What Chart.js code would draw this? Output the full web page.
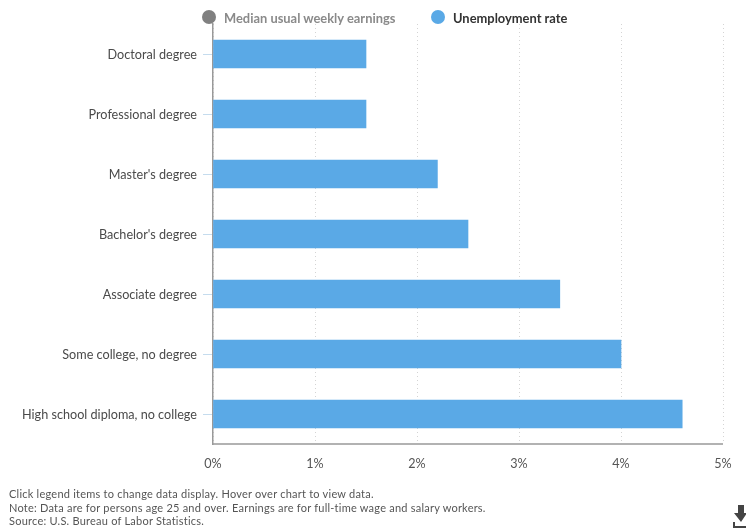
<!DOCTYPE html>
<html>
<head>
<meta charset="utf-8">
<style>
  html, body { margin: 0; padding: 0; background: #fff; }
  #wrap { position: relative; width: 746px; height: 531px; overflow: hidden; font-family: Lato, sans-serif; }
  canvas { position: absolute; left: 0; top: 0; }
  .legend { position: absolute; top: 9px; height: 18px; line-height: 18px; font-size: 12.9px; font-weight: 700; white-space: nowrap; }
  .legend i { position: absolute; left: 0; top: 1px; width: 14px; height: 14px; border-radius: 50%; }
  .legend span { position: absolute; left: 22px; top: 0; }
  #notes { position: absolute; left: 9px; top: 487px; font-size: 11px; line-height: 13.5px; color: #555; letter-spacing: 0.23px; white-space: nowrap; }
  #save { position: absolute; left: 732px; top: 505px; }
</style>
</head>
<body>
<div id="wrap">
  <canvas id="chart" width="746" height="531"></canvas>
  <div class="legend" id="lg0" style="left:202px"><i style="background:#808080"></i><span style="color:#8a8a8a"></span></div>
  <div class="legend" id="lg1" style="left:431px"><i style="background:#5aa9e6"></i><span style="color:#333"></span></div>
  <div id="notes"></div>
  <svg id="save" width="16" height="26" viewBox="0 0 16 26">
    <path d="M6 0h6v8h3l-6 9-7-9h4z" fill="#444"/>
    <path d="M1 17v6h15v-2H3v-4z" fill="#444"/>
  </svg>
</div>
<script src="https://cdn.jsdelivr.net/npm/chart.js@4/dist/chart.umd.min.js"></script>
<script>
const categories = [
  "Doctoral degree",
  "Professional degree",
  "Master's degree",
  "Bachelor's degree",
  "Associate degree",
  "Some college, no degree",
  "High school diploma, no college"
];
const unemploymentRate = [1.5, 1.5, 2.2, 2.5, 3.4, 4.0, 4.6];
const rateTicks = [0, 1, 2, 3, 4, 5];
const legendNames = ["Median usual weekly earnings", "Unemployment rate"];
const noteLines = [
  "Click legend items to change data display. Hover over chart to view data.",
  "Note: Data are for persons age 25 and over. Earnings are for full-time wage and salary workers.",
  "Source: U.S. Bureau of Labor Statistics."
];

document.querySelector("#lg0 span").textContent = legendNames[0];
document.querySelector("#lg1 span").textContent = legendNames[1];
document.getElementById("notes").innerHTML = noteLines.join("<br>");

new Chart(document.getElementById("chart"), {
  type: "bar",
  data: {
    labels: categories,
    datasets: [{
      label: legendNames[1],
      data: unemploymentRate,
      backgroundColor: "#5aa9e6",
      borderWidth: 0,
      barThickness: 28
    }]
  },
  options: {
    indexAxis: "y",
    responsive: false,
    animation: false,
    layout: { padding: { top: 24, right: 23, left: 0, bottom: 0 } },
    plugins: { legend: { display: false }, tooltip: { enabled: false } },
    scales: {
      x: {
        min: 0,
        max: 5,
        afterBuildTicks(axis) { axis.ticks = rateTicks.map(v => ({ value: v })); },
        afterFit(axis) { axis.height = 87; },
        grid: { color: "#d4d4d4", lineWidth: 1, drawTicks: false },
        border: { dash: [1, 3], display: false },
        ticks: {
          padding: 12,
          color: "#555",
          font: { family: "Lato, sans-serif", size: 12.6 },
          maxRotation: 0,
          callback: v => v + "%"
        }
      },
      y: {
        afterFit(axis) { axis.width = 213; },
        grid: { display: true, offset: false, drawOnChartArea: false, drawTicks: true, tickLength: 10, color: "#c5dcee" },
        border: { color: "#999999", width: 1.5 },
        ticks: {
          padding: 6,
          labelOffset: 1,
          color: "#4a4a4a",
          font: { family: "Lato, sans-serif", size: 12.65 }
        }
      }
    }
  },
  plugins: [{
    // Solid baseline under the bars; the x grid above it stays dotted.
    id: "baseline",
    beforeDatasetsDraw(chart) {
      const { ctx, chartArea: a } = chart;
      ctx.save();
      ctx.strokeStyle = "#999999";
      ctx.lineWidth = 1.5;
      ctx.beginPath();
      ctx.moveTo(a.left, a.bottom);
      ctx.lineTo(a.right, a.bottom);
      ctx.stroke();
      ctx.restore();
    }
  }]
});
</script>
</body>
</html>
